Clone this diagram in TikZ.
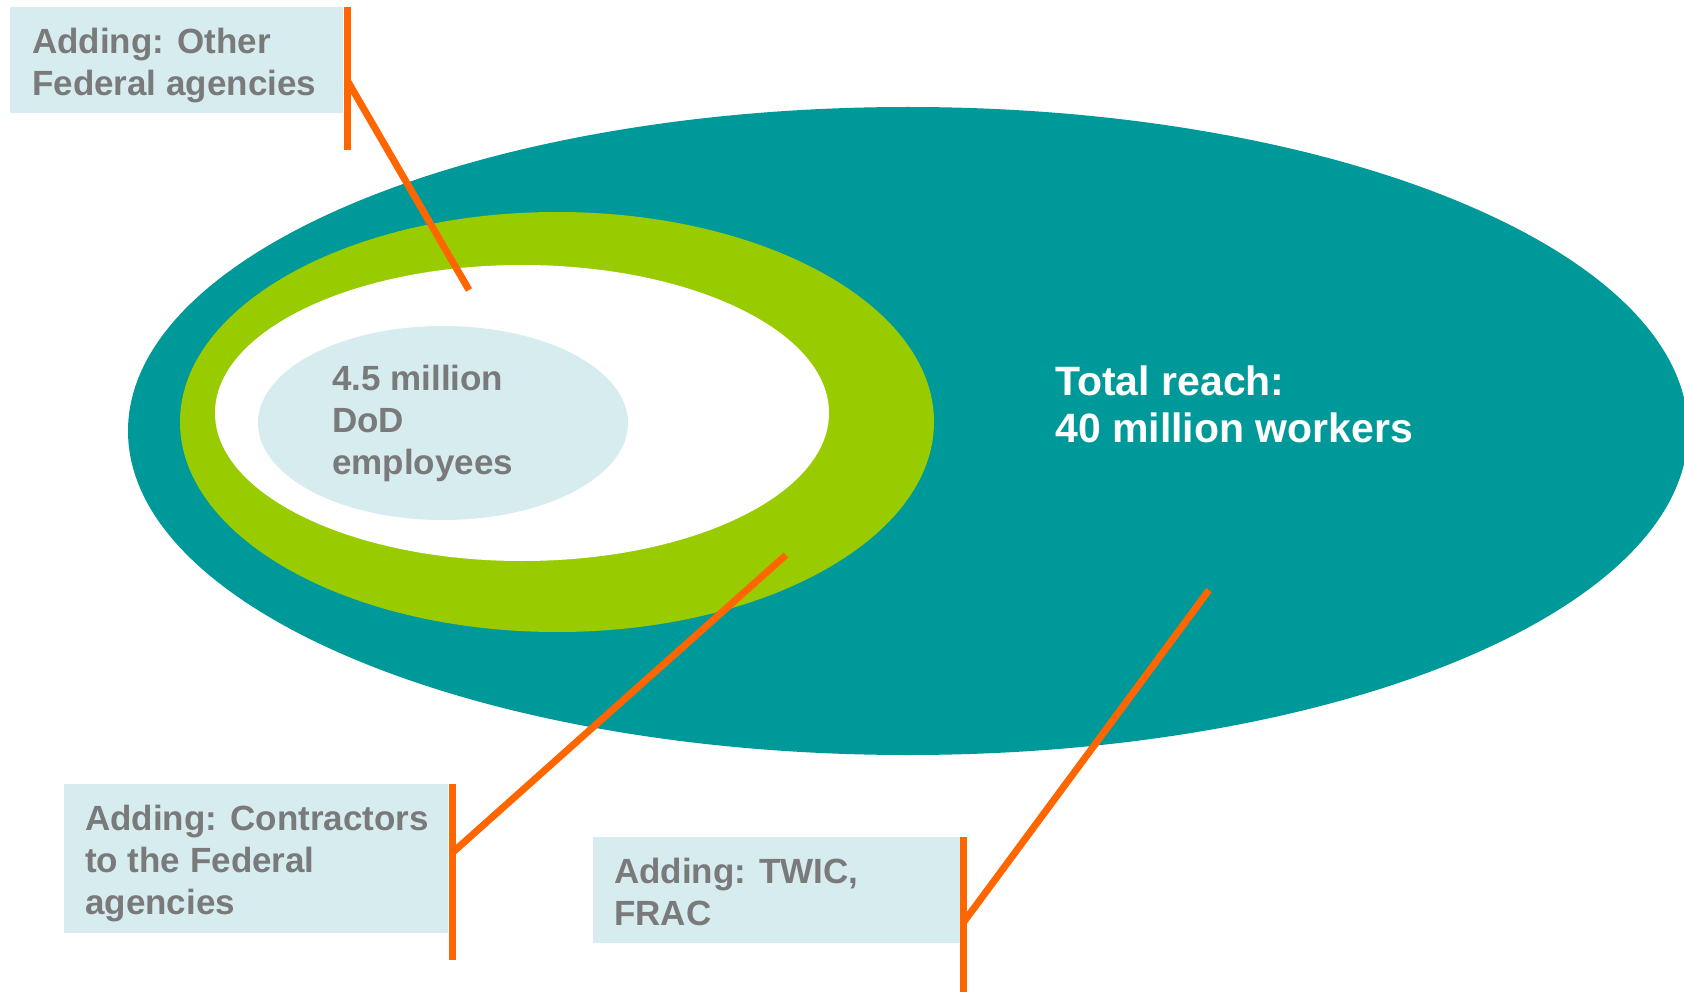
\documentclass[tikz,border=0pt]{standalone}
\usepackage{fontspec}
\setmainfont{Liberation Sans}
\definecolor{teal1}{HTML}{009999}
\definecolor{green1}{HTML}{99CC00}
\definecolor{pale}{HTML}{D6ECEF}
\definecolor{orng}{HTML}{FF6600}
\definecolor{txtgray}{HTML}{7A7A7A}
\tikzset{
  lbl/.style={anchor=base west, align=left, inner sep=0pt, text=txtgray, font=\fontsize{35}{42}\selectfont\bfseries},
  box/.style={anchor=north west, fill=pale, inner sep=0pt},
  lead/.style={draw=orng, line width=7pt},
}
\begin{document}
\begin{tikzpicture}[x=1pt,y=-1pt]
\useasboundingbox (0,0) rectangle (1684,992);
\clip (0,0) rectangle (1684,992);
% ellipses
\fill[teal1] (908,431) ellipse [x radius=780, y radius=324];
\fill[green1] (557,422) ellipse [x radius=377, y radius=210];
\fill[white] (522,413) ellipse [x radius=307, y radius=148];
\fill[pale] (443,423) ellipse [x radius=185, y radius=97];
\node[lbl] (dod) at (332,474) {4.5 million\\DoD\\employees};
\node[lbl, text=white, font=\fontsize{41}{47}\selectfont\bfseries] (total) at (1055,442) {Total reach:\\40 million workers};
% boxes
\node[box, minimum width=333pt, minimum height=106pt] (b1) at (10,7) {};
\node[lbl] (t1) at (32,96) {Adding: Other\\Federal agencies};
\node[box, minimum width=384pt, minimum height=149pt] (b2) at (64,784) {};
\node[lbl] (t2) at (85,914) {Adding: Contractors\\to the Federal\\agencies};
\node[box, minimum width=367pt, minimum height=106pt] (b3) at (593,837) {};
\node[lbl] (t3) at (614,925) {Adding: TWIC,\\FRAC};
% leader lines
\coordinate (v1t) at (347,7);
\coordinate (v1b) at (347,150);
\coordinate (j1) at (347,80);
\coordinate (e1) at (469,290);
\draw[lead] (v1t) -- (v1b);
\draw[lead] (j1) -- (e1);
\coordinate (v2t) at (452,784);
\coordinate (v2b) at (452,960);
\coordinate (j2) at (452,853);
\coordinate (e2) at (786,555);
\draw[lead] (v2t) -- (v2b);
\draw[lead] (j2) -- (e2);
\coordinate (v3t) at (963,837);
\coordinate (v3b) at (963,992);
\coordinate (j3) at (963,923);
\coordinate (e3) at (1209,590);
\draw[lead] (v3t) -- (v3b);
\draw[lead] (j3) -- (e3);
\end{tikzpicture}
\end{document}
